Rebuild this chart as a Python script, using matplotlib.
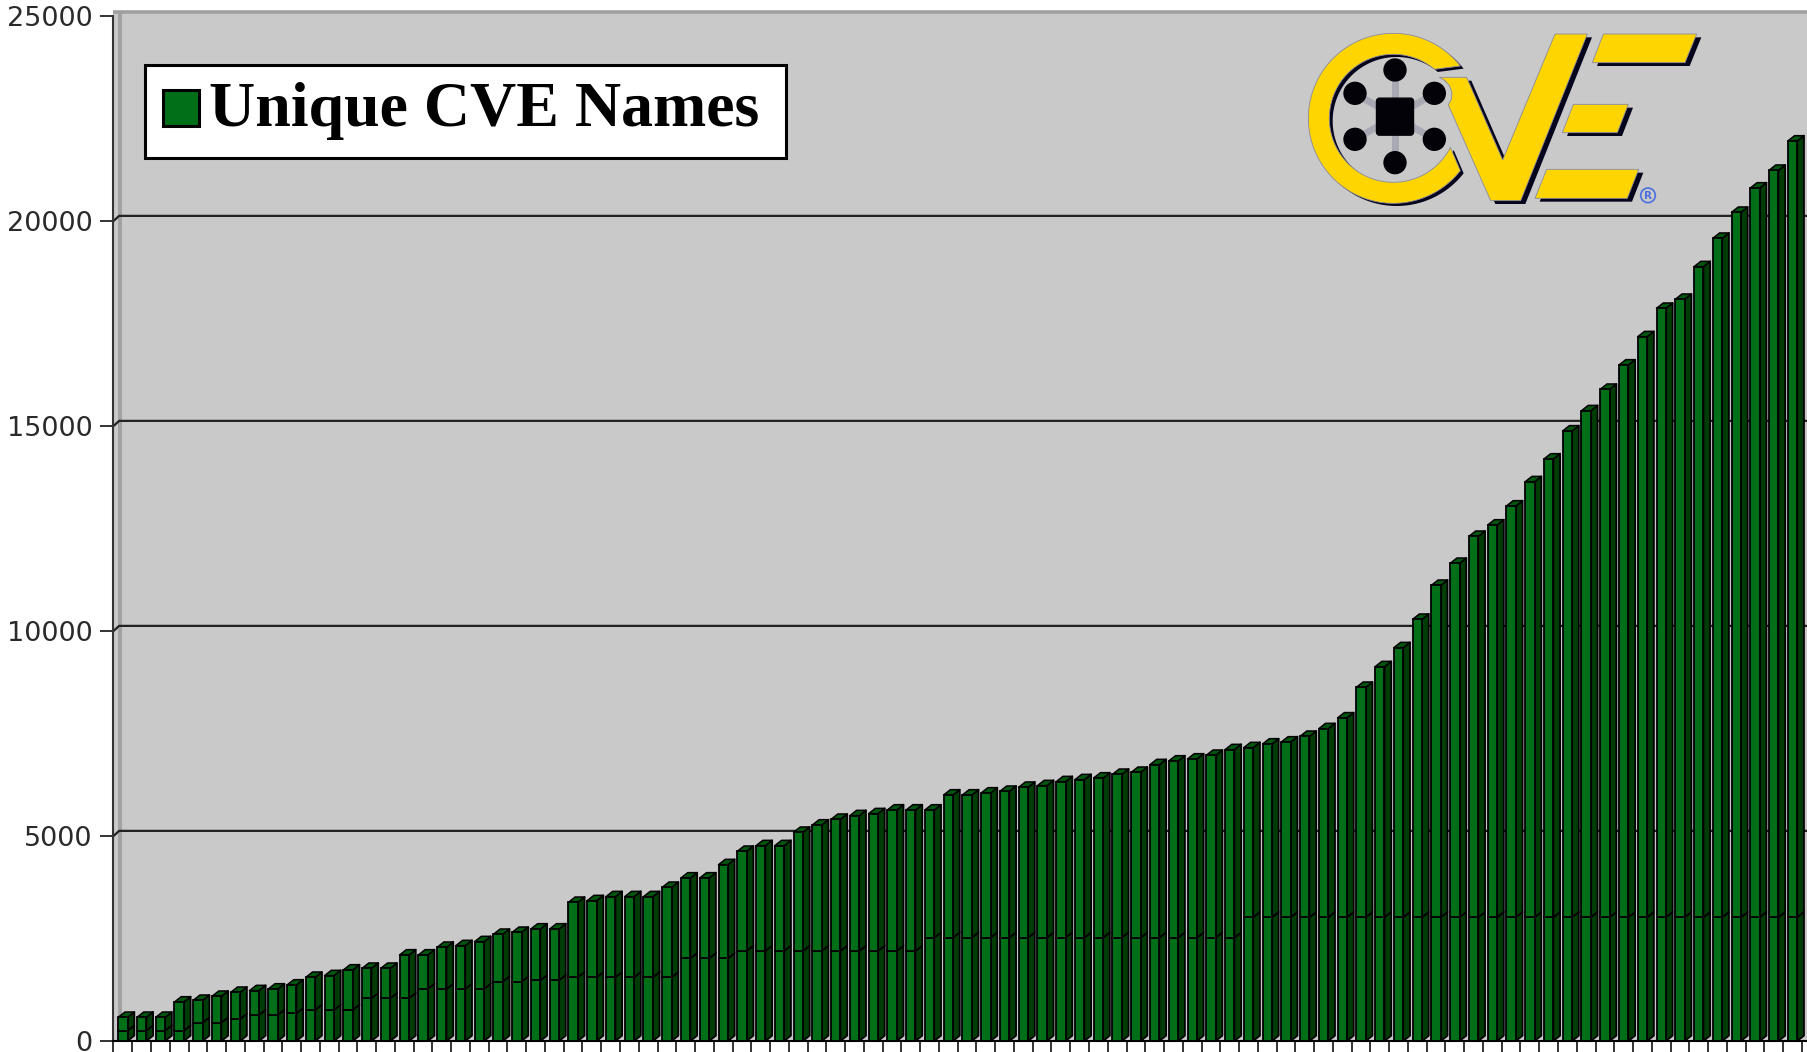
import numpy as np
import matplotlib
matplotlib.use("Agg")
import matplotlib.pyplot as plt
from matplotlib.collections import PolyCollection
from matplotlib.patches import Polygon, Circle, FancyBboxPatch

# Unique CVE names, one value per bar
totals = [577, 577, 577, 951, 992, 1090, 1187, 1228, 1268, 1366,
          1553, 1594, 1732, 1773, 1773, 2098, 2098, 2285, 2326, 2423,
          2602, 2650, 2732, 2732, 3382, 3423, 3520, 3520, 3520, 3748,
          3976, 3976, 4301, 4626, 4764, 4764, 5090, 5268, 5407, 5496,
          5544, 5634, 5634, 5634, 6000, 6000, 6049, 6090, 6188, 6228,
          6325, 6374, 6415, 6504, 6553, 6740, 6829, 6878, 6968, 7106,
          7155, 7244, 7293, 7431, 7618, 7880, 8626, 9130, 9593, 10285,
          11114, 11650, 12309, 12585, 13049, 13641, 14195, 14880, 15373, 15895,
          16488, 17178, 17870, 18090, 18886, 19578, 20212, 20805, 21237, 21951]

# Height of the dividing line inside each bar
lower = [252, 252, 252, 252, 447, 447, 537, 634, 634, 675,
         756, 756, 756, 1041, 1041, 1041, 1268, 1268, 1268, 1268,
         1447, 1447, 1480, 1480, 1553, 1553, 1553, 1553, 1553, 1553,
         2016, 2016, 2016, 2195, 2195, 2195, 2195, 2195, 2195, 2195,
         2195, 2195, 2195, 2520, 2520, 2520, 2520, 2520, 2520, 2520,
         2520, 2520, 2520, 2520, 2520, 2520, 2520, 2520, 2520, 2520,
         3017, 3017, 3017, 3017, 3017, 3017, 3017, 3017, 3017, 3017,
         3017, 3017, 3017, 3017, 3017, 3017, 3017, 3017, 3017, 3017,
         3017, 3017, 3017, 3017, 3017, 3017, 3017, 3017, 3017, 3017]

y_ticks = [0, 5000, 10000, 15000, 20000, 25000]
legend_label = "Unique CVE Names"

WIDTH, HEIGHT = 1808, 1052
FACE = "#006f17"
SIDE = "#003d06"
TOP = "#00560f"
WALL = "#c9c9c9"

# Depth of the fake 3D look, in data units
DEPTH_X = 0.36
DEPTH_Y = 130
GRID_Y = 125
BAR_W = 0.5
SLOT_PX = 18.76
Y_PX = 205 / 5000  # pixels per unit

plt.rcParams["font.family"] = "DejaVu Sans"

fig = plt.figure(figsize=(WIDTH / 100, HEIGHT / 100), dpi=100, facecolor="white")
left, bottom_px, top_px = 113.5, 1041, 8
ax = fig.add_axes([left / WIDTH, (HEIGHT - bottom_px) / HEIGHT,
                   1 - left / WIDTH, (bottom_px - top_px) / HEIGHT])
ax.set_xlim(0, (WIDTH - left) / SLOT_PX)
ax.set_ylim(0, (bottom_px - top_px) / Y_PX)
ax.set_facecolor("white")
xmax = ax.get_xlim()[1]

# back wall, left strip and top edge
ax.fill([0, xmax, xmax, 0], [0, 0, 25000 + 80, 25000 + 80], color=WALL, lw=0, zorder=0)
ax.fill([0.22, 0.46, 0.46, 0.22], [0, 0, 25000 + 80, 25000 + 80], color="#a2a2a2", lw=0, zorder=0.5)
ax.plot([0, xmax], [25000 + 90, 25000 + 90], color="#a0a0a0", lw=2.6, zorder=0.6)

# grid lines sit on the back wall, the short slant joins them to the tick
for t in y_ticks[1:-1]:
    ax.plot([0, 0.3, xmax], [t, t + GRID_Y, t + GRID_Y], color="#222222", lw=1.6, zorder=1)

x = np.arange(len(totals)) + 0.5
totals = np.array(totals)
lower = np.array(lower)
edge_kw = dict(edgecolor="black", linewidth=1.3, zorder=3)

ax.bar(x, lower, width=BAR_W, color=FACE, **edge_kw)
ax.bar(x, totals - lower, bottom=lower, width=BAR_W, color=FACE, label=legend_label, **edge_kw)

# side and top faces for the 3D effect
sides, tops = [], []
for xi, lo, tot in zip(x, lower, totals):
    xr = xi + BAR_W / 2
    xl = xi - BAR_W / 2
    for y0, y1 in ((0, lo), (lo, tot)):
        sides.append([(xr, y0), (xr + DEPTH_X, y0 + DEPTH_Y),
                      (xr + DEPTH_X, y1 + DEPTH_Y), (xr, y1)])
    tops.append([(xl, tot), (xr, tot), (xr + DEPTH_X, tot + DEPTH_Y), (xl + DEPTH_X, tot + DEPTH_Y)])
ax.add_collection(PolyCollection(sides, facecolors=SIDE, edgecolors="black", linewidths=1.3, zorder=2.8))
ax.add_collection(PolyCollection(tops, facecolors=TOP, edgecolors="black", linewidths=1.1, zorder=2.9))

# axes
for s in ("top", "right"):
    ax.spines[s].set_visible(False)
ax.spines["left"].set_bounds(0, 25000)
ax.spines["left"].set_linewidth(1.5)
ax.spines["left"].set_color("#333333")
ax.spines["bottom"].set_linewidth(1.5)
ax.set_yticks(y_ticks)
ax.set_yticklabels([str(t) for t in y_ticks], fontsize=19.5, color="#2a2a2a")
ax.tick_params(axis="y", length=9.4, width=1.4, pad=5.5, color="#333333")
ax.set_xticks(np.arange(0, len(totals) + 1))
ax.set_xticklabels([])
ax.tick_params(axis="x", length=9, width=1.4, color="#333333")

# legend, expand mode gives the box its wider right margin
leg = ax.legend(loc="upper left", mode="expand",
                bbox_to_anchor=(145.5 / WIDTH, 1 - 65 / HEIGHT, 641 / WIDTH, 0),
                bbox_transform=fig.transFigure,
                prop={"family": "Liberation Serif", "weight": "bold", "size": 46},
                handlelength=0.56, handleheight=0.5, handletextpad=0.16,
                borderpad=0.27, borderaxespad=0, fancybox=False,
                framealpha=1, facecolor="white", edgecolor="black")
leg.get_frame().set_linewidth(2.2)
leg.set_zorder(5)
swatch = leg.legend_handles[0]
swatch.set_edgecolor("black")
swatch.set_linewidth(2.2)
swatch.set_y(swatch.get_y() - 3)


# CVE logo, drawn in picture pixels on its own transparent axes
logo = fig.add_axes([0, 0, 1, 1], facecolor="none")
logo.set_xlim(0, WIDTH)
logo.set_ylim(HEIGHT, 0)
logo.axis("off")


def lp(points):
    # logo points were measured on a 3x crop starting at (1280, 10)
    return [(1280 + px / 3, 10 + py / 3) for px, py in points]


def c_shape(cx, cy, r_out, r_in):
    # the ends of the C are not radial cuts, so each arc has its own angles
    out_ang = np.radians(np.linspace(38, 322, 120))
    in_ang = np.radians(np.linspace(333, 50, 120))
    outer = [(cx + r_out * np.cos(a), cy - r_out * np.sin(a)) for a in out_ang]
    inner = [(cx + r_in * np.cos(a), cy - r_in * np.sin(a)) for a in in_ang]
    return outer + inner


YELLOW = "#ffd500"
SHADOW = "#04041c"
OUTLINE = "#8a8aa0"

# left side of the V follows the round notch around the upper right node
v_pts = [(478, 202), (560, 202), (668, 450), (825, 72), (922, 72), (722, 572),
         (632, 572), (505, 285), (514, 268), (516, 248), (508, 226), (494, 211)]
e_pts = [[(970, 72), (1250, 72), (1215, 158), (937, 158)],
         [(880, 283), (1045, 283), (1012, 368), (847, 368)],
         [(800, 478), (1076, 478), (1042, 565), (765, 565)]]

# shadows first
c_pts = c_shape(340, 325, 255, 192)
logo.add_patch(Polygon(lp([(px + 10, py + 8) for px, py in c_pts]), color=SHADOW, lw=0, zorder=1))
for pts in [v_pts] + e_pts:
    logo.add_patch(Polygon(lp([(px + 14, py + 10) for px, py in pts]), color=SHADOW, lw=0, zorder=1))

logo.add_patch(Polygon(lp(c_pts), facecolor=YELLOW, edgecolor=OUTLINE, lw=0.6, zorder=2))
for pts in [v_pts] + e_pts:
    logo.add_patch(Polygon(lp(pts), facecolor=YELLOW, edgecolor=OUTLINE, lw=0.6, zorder=2))

# hub and spokes
nodes = [(345, 180), (225, 250), (463, 250), (225, 388), (463, 388), (345, 458)]
hub = lp([(345, 320)])[0]
for n in lp(nodes):
    logo.plot([hub[0], n[0]], [hub[1], n[1]], color="#a9a9b4", lw=5, zorder=3, solid_capstyle="butt")
    logo.add_patch(Circle(n, 35 / 3, color="#020208", lw=0, zorder=4))
logo.add_patch(FancyBboxPatch((hub[0] - 18.5, hub[1] - 18.5), 37, 37, boxstyle="round,pad=0,rounding_size=3",
                              facecolor="#020208", edgecolor="#020208", lw=1, zorder=4))

# registered mark
reg = lp([(1104, 556)])[0]
logo.add_patch(Circle(reg, 7.3, facecolor="none", edgecolor="#4a6fe0", lw=1.2, zorder=4))
logo.text(reg[0], reg[1] + 0.3, "R", color="#4a6fe0", fontsize=7.5, ha="center", va="center",
          fontweight="bold", zorder=4)

fig.savefig("out.png", dpi=100)
